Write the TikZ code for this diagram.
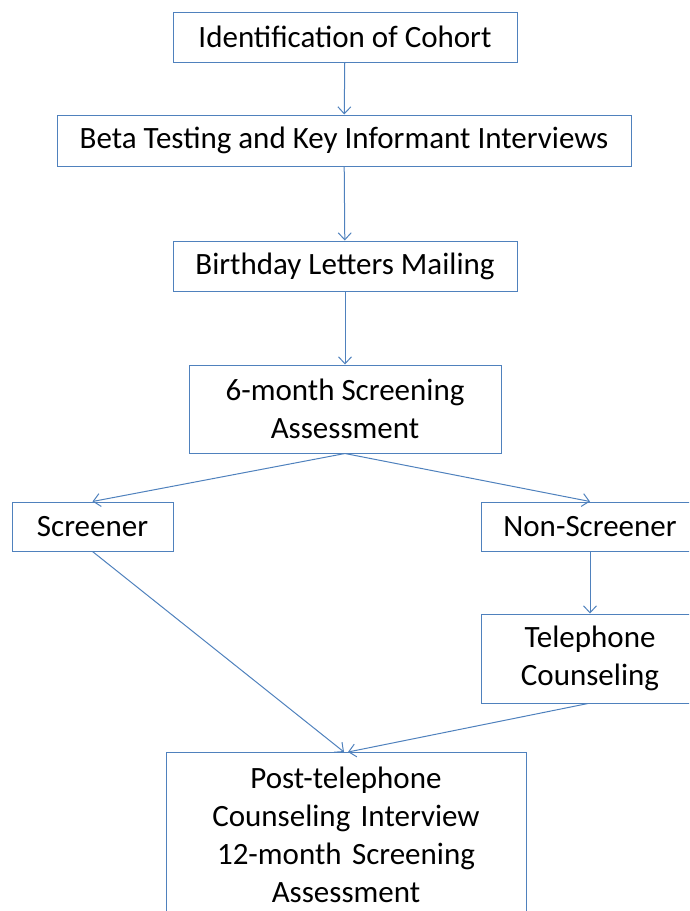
\documentclass[tikz,border=0pt]{standalone}
\usepackage{fontspec}
\setmainfont{Carlito}
\usetikzlibrary{arrows.meta}
\definecolor{boxblue}{RGB}{79,129,189}
\tikzset{
  box/.style={draw=boxblue,line width=1pt,align=center,inner sep=0pt,
    font=\fontsize{31}{38}\selectfont},
  flow/.style={->,draw=boxblue,line width=1pt}
}

\begin{document}
\begin{tikzpicture}[x=1pt,y=-1pt,>={Straight Barb[length=7pt,width=13pt]}]
  \clip (0,0) rectangle (689,911);
  \node[box,minimum width=344pt,minimum height=50pt] (cohort) at (345,37) {Identification of Cohort};
  \node[box,minimum width=574pt,minimum height=51pt] (beta) at (344,140.5) {Beta Testing and Key Informant Interviews};
  \node[box,minimum width=344pt,minimum height=50pt] (mail) at (345,266) {Birthday Letters Mailing};
  \node[box,minimum width=312pt,minimum height=88pt] (sixmonth) at (345,409) {6-month Screening\\Assessment};
  \node[box,minimum width=161pt,minimum height=49pt] (screener) at (92.5,526.5) {Screener};
  \node[box,minimum width=218pt,minimum height=49pt] (nonscreener) at (590,526.5) {Non-Screener};
  \node[box,minimum width=218pt,minimum height=89pt] (phone) at (590,658.5) {Telephone\\Counseling};
  \node[box,anchor=north,text width=360pt,inner ysep=14pt] (post) at (346,752) {Post-telephone\\Counseling Interview\\12-month Screening\\Assessment};
  \draw[flow] (cohort) -- (beta);
  \draw[flow] (beta) -- (mail);
  \draw[flow] (mail) -- (sixmonth);
  \draw[flow] (sixmonth.south) -- (screener.north);
  \draw[flow] (sixmonth.south) -- (nonscreener.north);
  \draw[flow] (nonscreener) -- (phone);
  \draw[flow] (screener.south) -- ([xshift=-2pt]post.north);
  \draw[flow] ([xshift=-2pt]phone.south) -- ([xshift=2pt]post.north);
\end{tikzpicture}
\end{document}
